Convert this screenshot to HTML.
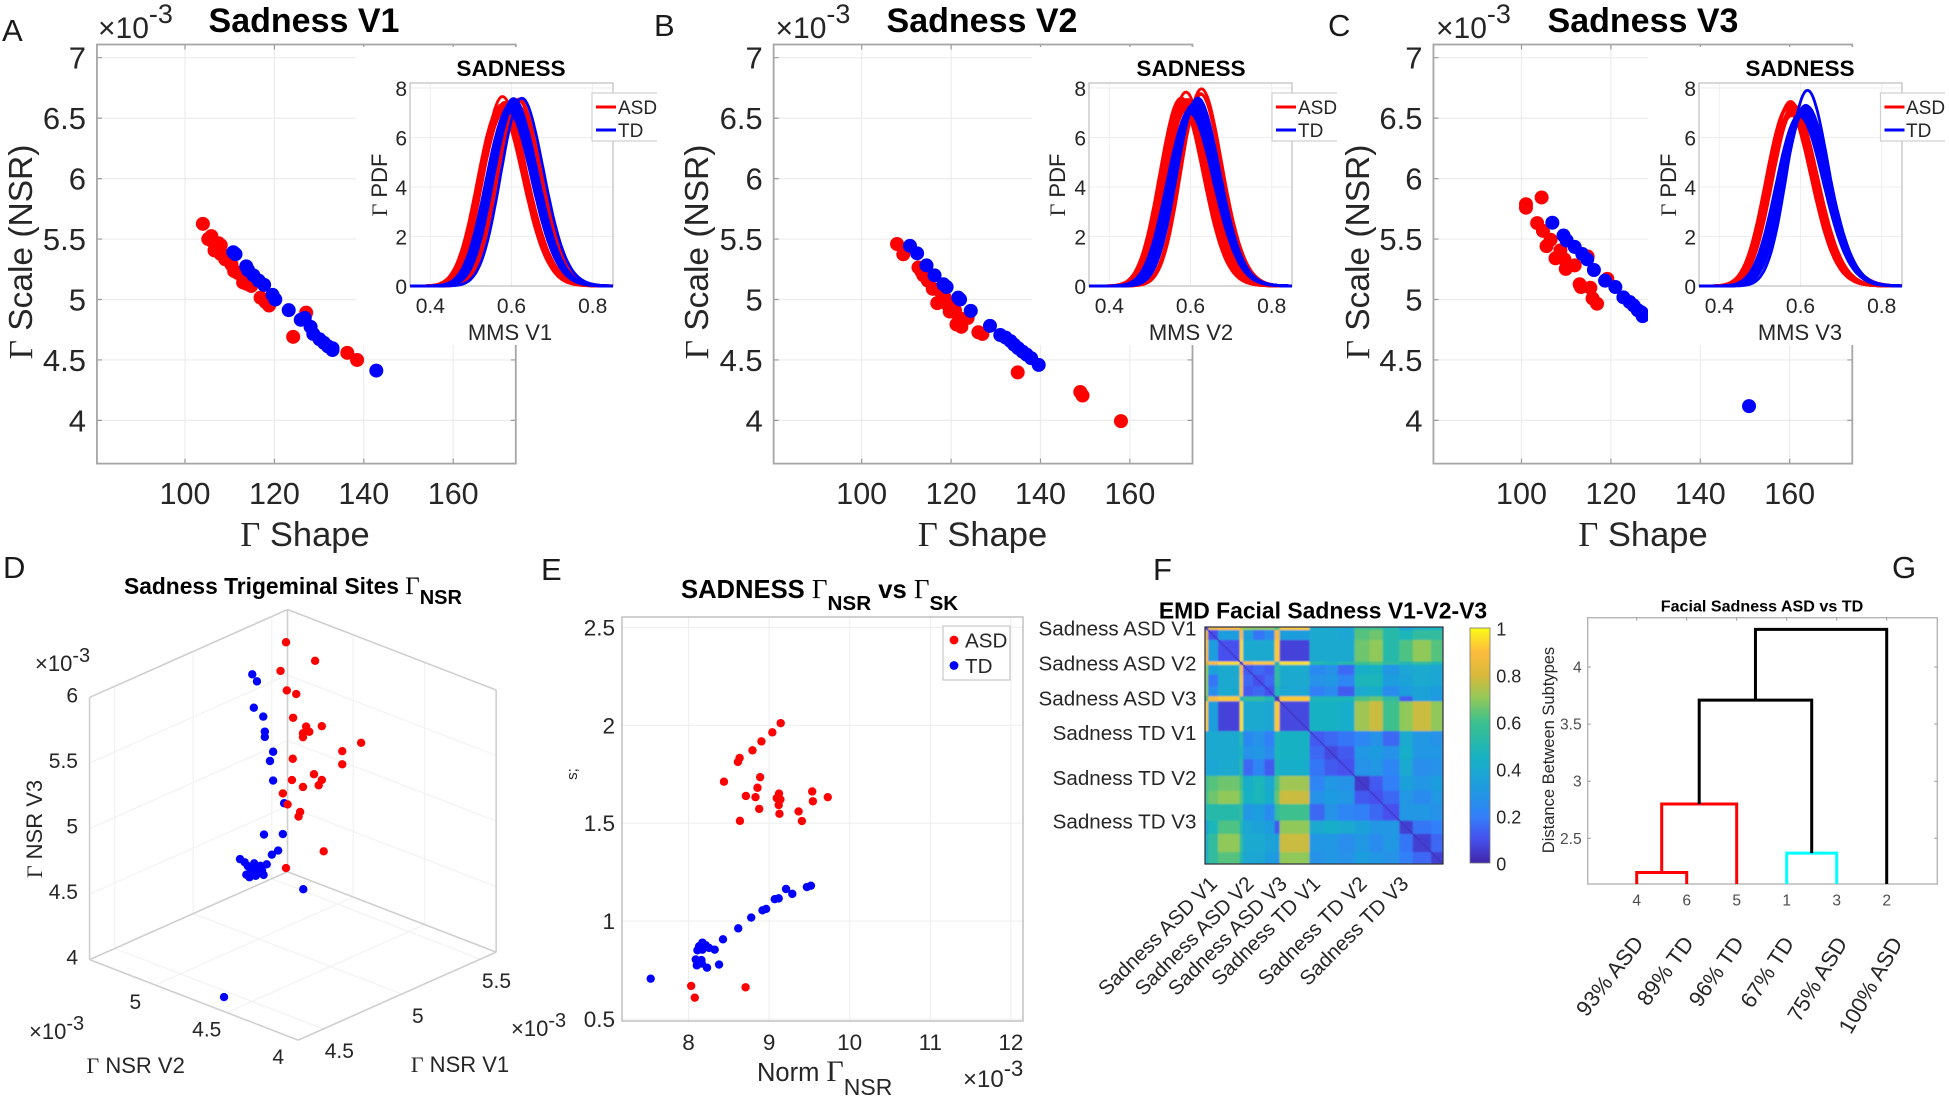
<!DOCTYPE html>
<html lang="en">
<head>
<meta charset="utf-8">
<title>Sadness micro-movement figure</title>
<style>
html,body{margin:0;padding:0;background:#fff;width:1949px;height:1097px;overflow:hidden}
svg{display:block}
text{font-family:"Liberation Sans",sans-serif;fill:#262626}
.serif{font-family:"Liberation Serif",serif}
.bold{font-weight:700;fill:#000}
.letter{font-size:31px;fill:#1a1a1a}
.title{font-size:34px;font-weight:700;fill:#000}
.axis-big{font-size:34.5px}
.axis-big-y{font-size:33.5px}
.mag{font-size:30px}
.inset-title{font-size:22.6px;font-weight:700;fill:#000}
.inset-label{font-size:22px}
.legend-text{font-size:19px}
.d-label{font-size:22px}
.mag-small{font-size:22px}
</style>
</head>
<body>
<svg id="figure" xmlns="http://www.w3.org/2000/svg" width="1949" height="1097" viewBox="0 0 1949 1097">
<defs>
<filter id="heat-blur" x="-5%" y="-5%" width="110%" height="110%"><feGaussianBlur stdDeviation="0.8"/></filter>
<clipPath id="heat-clip"><rect x="1205" y="627" width="238" height="237"/></clipPath>
<linearGradient id="parula" x1="0" y1="1" x2="0" y2="0">
<stop offset="0" stop-color="#3e26a8"/><stop offset=".1" stop-color="#4750ee"/><stop offset=".2" stop-color="#3280f8"/><stop offset=".32" stop-color="#1f9be0"/><stop offset=".45" stop-color="#17b2c4"/><stop offset=".6" stop-color="#3cc08d"/><stop offset=".7" stop-color="#90c95a"/><stop offset=".8" stop-color="#d9b93a"/><stop offset=".9" stop-color="#fdbc3c"/><stop offset="1" stop-color="#f9fb15"/>
</linearGradient>
</defs>

<!-- Panel A -->
<g id="panel-a">
<text class="letter" x="2" y="41">A</text>
<g id="scatter-v1"></g>
<rect x="356" y="47" width="164" height="298" fill="#fff"/>
<g id="inset-v1"></g>
<text class="title" x="304" y="32" text-anchor="middle">Sadness V1</text>
<text class="mag" x="98" y="38">×10<tspan dy="-15" font-size="27">-3</tspan></text>
<text class="axis-big-y" transform="translate(32,252) rotate(-90)" text-anchor="middle"><tspan class="serif">Γ</tspan> Scale (NSR)</text>
<text class="axis-big" x="305" y="546" text-anchor="middle"><tspan class="serif">Γ</tspan> Shape</text>
<text class="inset-title" x="511" y="76" text-anchor="middle">SADNESS</text>
<text class="inset-label" x="510" y="340" text-anchor="middle">MMS V1</text>
<text class="inset-label" transform="translate(387,185) rotate(-90)" text-anchor="middle"><tspan class="serif">Γ</tspan> PDF</text>
<g>
<path d="M657 93H592V141H657" fill="#fff" stroke="#d0d0d0" stroke-width="1.2"/>
<line x1="596" x2="616" y1="107" y2="107" stroke="#f00" stroke-width="3"/>
<text class="legend-text" x="618" y="114">ASD</text>
<line x1="596" x2="616" y1="130" y2="130" stroke="#00f" stroke-width="3"/>
<text class="legend-text" x="618" y="137">TD</text>
</g>
</g>

<!-- Panel B -->
<g id="panel-b">
<text class="letter" x="654" y="36">B</text>
<g id="scatter-v2"></g>
<rect x="1032" y="47" width="164" height="298" fill="#fff"/>
<g id="inset-v2"></g>
<text class="title" x="982" y="32" text-anchor="middle">Sadness V2</text>
<text class="mag" x="775.5" y="38">×10<tspan dy="-15" font-size="27">-3</tspan></text>
<text class="axis-big-y" transform="translate(708,252) rotate(-90)" text-anchor="middle"><tspan class="serif">Γ</tspan> Scale (NSR)</text>
<text class="axis-big" x="982.5" y="546" text-anchor="middle"><tspan class="serif">Γ</tspan> Shape</text>
<text class="inset-title" x="1191" y="76" text-anchor="middle">SADNESS</text>
<text class="inset-label" x="1191" y="340" text-anchor="middle">MMS V2</text>
<text class="inset-label" transform="translate(1065,185) rotate(-90)" text-anchor="middle"><tspan class="serif">Γ</tspan> PDF</text>
<g>
<path d="M1337 93H1272V141H1337" fill="#fff" stroke="#d0d0d0" stroke-width="1.2"/>
<line x1="1276" x2="1296" y1="107" y2="107" stroke="#f00" stroke-width="3"/>
<text class="legend-text" x="1298" y="114">ASD</text>
<line x1="1276" x2="1296" y1="130" y2="130" stroke="#00f" stroke-width="3"/>
<text class="legend-text" x="1298" y="137">TD</text>
</g>
</g>

<!-- Panel C -->
<g id="panel-c">
<text class="letter" x="1328" y="36">C</text>
<g id="scatter-v3"></g>
<rect x="1648" y="47" width="208" height="298" fill="#fff"/>
<g id="inset-v3"></g>
<text class="title" x="1643" y="32" text-anchor="middle">Sadness V3</text>
<text class="mag" x="1436" y="38">×10<tspan dy="-15" font-size="27">-3</tspan></text>
<text class="axis-big-y" transform="translate(1369,252) rotate(-90)" text-anchor="middle"><tspan class="serif">Γ</tspan> Scale (NSR)</text>
<text class="axis-big" x="1643" y="546" text-anchor="middle"><tspan class="serif">Γ</tspan> Shape</text>
<text class="inset-title" x="1800" y="76" text-anchor="middle">SADNESS</text>
<text class="inset-label" x="1800" y="340" text-anchor="middle">MMS V3</text>
<text class="inset-label" transform="translate(1676,185) rotate(-90)" text-anchor="middle"><tspan class="serif">Γ</tspan> PDF</text>
<g>
<path d="M1945 93H1880.5V141H1945" fill="#fff" stroke="#d0d0d0" stroke-width="1.2"/>
<line x1="1884.5" x2="1904.5" y1="107" y2="107" stroke="#f00" stroke-width="3"/>
<text class="legend-text" x="1906" y="114">ASD</text>
<line x1="1884.5" x2="1904.5" y1="130" y2="130" stroke="#00f" stroke-width="3"/>
<text class="legend-text" x="1906" y="137">TD</text>
</g>
</g>

<!-- Panel D -->
<g id="panel-d">
<text class="letter" x="3" y="578">D</text>
<text x="124" y="594" font-size="22.8" class="bold">Sadness Trigeminal Sites <tspan class="serif" font-weight="400" font-size="25">Γ</tspan><tspan dy="10" font-size="20">NSR</tspan></text>
<g id="plot-3d"></g>
<text class="mag-small" x="35" y="671">×10<tspan dy="-9" font-size="20">-3</tspan></text>
<text class="mag-small" x="29" y="1039">×10<tspan dy="-9" font-size="20">-3</tspan></text>
<text class="mag-small" x="511" y="1036">×10<tspan dy="-9" font-size="20">-3</tspan></text>
<text class="d-label" transform="translate(42,829) rotate(-90)" text-anchor="middle"><tspan class="serif">Γ</tspan> NSR V3</text>
<text class="d-label" x="135.7" y="1073" text-anchor="middle"><tspan class="serif">Γ</tspan> NSR V2</text>
<text class="d-label" x="460" y="1072" text-anchor="middle"><tspan class="serif">Γ</tspan> NSR V1</text>
</g>

<!-- Panel E -->
<g id="panel-e">
<text class="letter" x="541" y="580">E</text>
<text x="681" y="598" font-size="25.6" class="bold">SADNESS <tspan class="serif" font-weight="400" font-size="27">Γ</tspan><tspan dy="12" font-size="20.7">NSR</tspan><tspan dy="-12"> vs </tspan><tspan class="serif" font-weight="400" font-size="27">Γ</tspan><tspan dy="12" font-size="20.7">SK</tspan></text>
<g id="plot-e"></g>
<g>
<rect x="943" y="626" width="67" height="54" fill="#fff" stroke="#c8c8c8" stroke-width="1.2"/>
<circle cx="954" cy="640" r="4.4" fill="#f00"/>
<text x="965" y="647.5" font-size="20.6">ASD</text>
<circle cx="954" cy="665.5" r="4.4" fill="#00f"/>
<text x="965" y="673" font-size="20.6">TD</text>
</g>
<text x="757" y="1081" font-size="25.5">Norm <tspan class="serif" font-size="30">Γ</tspan><tspan dy="14" font-size="23">NSR</tspan></text>
<text x="963" y="1087" font-size="24">×10<tspan dy="-11" font-size="22">-3</tspan></text>
<text transform="translate(577,774) rotate(-90)" text-anchor="middle" font-size="15">s;</text>
</g>

<!-- Panel F -->
<g id="panel-f">
<text class="letter" x="1153" y="580">F</text>
<text x="1323" y="618.5" font-size="22.9" class="bold" text-anchor="middle">EMD Facial Sadness V1-V2-V3</text>
<g id="plot-heat"></g>
</g>

<!-- Panel G -->
<g id="panel-g">
<text class="letter" x="1892" y="578">G</text>
<text x="1762" y="611.5" font-size="16.1" class="bold" text-anchor="middle">Facial Sadness ASD vs TD</text>
<text transform="translate(1554,750) rotate(-90)" font-size="16.5" text-anchor="middle">Distance Between Subtypes</text>
<g id="plot-dendro"></g>
</g>
</svg>

<script>
// ---------- Panel A, B, C data: gamma shape, gamma scale (x 10^-3) ----------
const v1AsdShape=[104,105.2,105.9,106.6,107.5,108,109,108,110.4,111,112.7,113,114.8,116.9,118.8,127.1,124.2,136.3,138.5,106.2,109.5,111.8,113.8,118];
const v1AsdScale=[5.626,5.5,5.524,5.406,5.465,5.376,5.332,5.45,5.288,5.235,5.2,5.141,5.112,5.015,4.95,4.891,4.691,4.559,4.5,5.48,5.36,5.22,5.13,4.98];
const v1TdShape=[110.8,111.3,113.7,114.1,115.3,116.5,117.7,119.6,120.2,123.2,125.9,126.8,128.1,128.7,130.1,131.1,132,133,133,142.8];
const v1TdScale=[5.391,5.375,5.274,5.244,5.2,5.156,5.121,5.038,5,4.912,4.832,4.847,4.774,4.715,4.671,4.641,4.612,4.597,4.582,4.412];
const v2AsdShape=[107.9,109.3,112.7,113.8,114.8,115.9,117.6,116.9,119,119.7,120.9,121.8,121.2,122.3,123.7,126.1,127,134.9,148.9,149.4,158,113.4,115.3,118.5,120.2];
const v2AsdScale=[5.459,5.374,5.265,5.2,5.156,5.088,5.068,4.97,4.965,4.9,4.906,4.847,4.794,4.774,4.847,4.729,4.715,4.397,4.235,4.206,3.994,5.23,5.185,5.02,4.935];
const v2TdShape=[110.8,112.4,114.5,116.3,118.3,119,121.6,122,124.4,128.7,131,132.2,133.3,134.1,135,136,136.9,137.9,139.6];
const v2TdScale=[5.444,5.382,5.282,5.2,5.126,5.103,5.015,5,4.906,4.782,4.706,4.685,4.656,4.626,4.597,4.568,4.544,4.515,4.459];
const v3AsdShape=[101,101,104.5,103.5,104.8,105.6,106.5,107.6,108.7,109.6,109.9,111.9,114.8,113,113.3,115.4,115.9,116.9,119.2];
const v3AsdScale=[5.788,5.759,5.844,5.632,5.568,5.441,5.494,5.341,5.406,5.332,5.253,5.282,5.356,5.126,5.103,5.097,5.009,4.965,5.171];
const v3TdShape=[106.9,109.4,110.1,111.9,113.6,114.7,116.2,118.7,121,122.8,124.2,125.1,126,126.9,127.1,126.5,150.9];
const v3TdScale=[5.635,5.529,5.488,5.435,5.376,5.332,5.244,5.156,5.103,5.018,4.979,4.95,4.912,4.891,4.862,4.9,4.118];
const scatterXTicks=[100,120,140,160];
const scatterYTicks=[4,4.5,5,5.5,6,6.5,7];
const insetXTicks=[0.4,0.6,0.8];
const insetYTicks=[0,2,4,6,8];

// ---------- Panel D data: NSR per trigeminal site (x 10^-3) ----------
const site3dAsdV1=[5.445,5.63,5.41,5.45,5.51,5.49,5.30,5.28,5.32,5.28,5.40,5.65,5.53,5.53,5.215,5.35,5.40,5.38,5.21,5.28,4.97,5.00,5.08,5.07,5.23,4.99];
const site3dAsdV2=[5.3,5.3,5.3,5.3,5.3,5.3,5,5,5,5,5,5,5,5,5,5,5,5,5,5,4.8,4.8,4.8,4.8,4.8,4.8];
const site3dAsdV3=[5.90,5.66,5.70,5.53,5.47,5.30,5.46,5.42,5.41,5.39,5.41,5.15,5.15,5.05,5.26,5.07,5.00,4.97,5.10,5.01,5.21,5.11,5.01,4.98,4.63,4.63];
const site3dTdV1=[5.23,5.26,5.24,5.30,5.31,5.31,5.09,5.07,5.09,5.16,4.85,4.97,4.94,4.90,4.47,4.50,4.52,4.56,4.64,4.61,4.58,4.54,4.53,4.57,4.62,4.59,4.53,4.51,4.56,4.60,5.10,4.35];
const site3dTdV2=[5.3,5.3,5.3,5.3,5.3,5.3,5,5,5,5,4.8,4.8,4.8,4.8,4.55,4.55,4.55,4.55,4.55,4.55,4.55,4.55,4.55,4.55,4.55,4.55,4.55,4.55,4.55,4.55,4.8,4.53];
const site3dTdV3=[5.77,5.70,5.51,5.41,5.29,5.25,5.38,5.32,5.16,4.95,4.96,4.90,4.79,4.78,5.08,5.04,5.00,5.00,4.95,4.92,4.95,4.95,4.91,4.90,4.88,4.91,4.94,4.94,4.96,4.96,4.41,4.10];
const axis3dV1Ticks=[4.5,5,5.5];
const axis3dV2Ticks=[4,4.5,5];
const axis3dV3Ticks=[4,4.5,5,5.5,6];

// ---------- Panel E data ----------
const nsrAsd=[9.144,9.04,8.905,8.794,8.634,8.613,8.44,8.889,8.856,8.712,8.831,9.123,9.095,9.14,9.119,9.128,8.877,8.638,9.366,9.407,9.535,9.543,9.728,8.033,8.078,8.708];
const skAsd=[2.011,1.964,1.918,1.872,1.833,1.813,1.712,1.735,1.681,1.639,1.633,1.651,1.628,1.621,1.593,1.548,1.573,1.512,1.56,1.511,1.662,1.612,1.633,0.669,0.609,0.662];
const nsrTd=[9.519,9.469,9.21,9.288,9.119,9.07,8.963,8.918,8.778,8.617,8.428,8.173,8.132,8.111,8.214,8.255,8.325,8.173,8.09,8.16,8.103,8.165,8.23,8.379,7.531];
const skTd=[1.181,1.174,1.164,1.139,1.116,1.112,1.062,1.055,1.018,0.963,0.907,0.89,0.872,0.851,0.877,0.863,0.854,0.854,0.804,0.801,0.774,0.783,0.762,0.778,0.706];
const nsrTicks=[8,9,10,11,12];
const skTicks=[0.5,1,1.5,2,2.5];

// ---------- Panel F data ----------
const heatSubjectCounts=[2,6,13,2,6,7,6,3,18,9,8,10,9,8,10,8,11,7];
const heatValues=[
[.10,.85,.90,.78,.70,.70,.70,.60,.92,.40,.40,.38,.60,.60,.50,.35,.45,.45],
[.85,.10,.33,.90,.35,.18,.25,.88,.33,.40,.40,.38,.63,.66,.52,.48,.55,.55],
[.90,.33,.10,.95,.40,.40,.40,.92,.07,.40,.40,.40,.66,.70,.52,.62,.70,.63],
[.78,.90,.95,.10,.90,.92,.92,.45,.96,.52,.48,.52,.60,.62,.55,.50,.55,.50],
[.70,.35,.40,.90,.12,.15,.12,.55,.40,.24,.28,.15,.43,.45,.30,.38,.40,.38],
[.70,.18,.40,.92,.15,.10,.15,.55,.40,.28,.30,.22,.48,.48,.33,.36,.40,.38],
[.70,.25,.40,.92,.12,.15,.10,.50,.38,.20,.25,.12,.40,.42,.25,.33,.36,.33],
[.60,.88,.92,.45,.55,.55,.50,.05,.92,.48,.48,.48,.62,.65,.55,.12,.35,.30],
[.92,.33,.07,.96,.40,.40,.38,.92,.08,.45,.45,.43,.72,.78,.60,.70,.78,.70],
[.40,.40,.40,.52,.24,.28,.20,.48,.45,.12,.15,.18,.22,.28,.15,.40,.30,.28],
[.40,.40,.40,.48,.28,.30,.25,.48,.45,.15,.08,.12,.30,.32,.28,.43,.30,.30],
[.38,.38,.40,.52,.15,.22,.12,.48,.43,.18,.12,.10,.28,.30,.22,.40,.26,.28],
[.60,.63,.66,.60,.43,.48,.40,.62,.72,.22,.30,.28,.05,.12,.20,.35,.30,.33],
[.60,.66,.70,.62,.45,.48,.42,.65,.78,.28,.32,.30,.12,.10,.15,.30,.25,.30],
[.50,.52,.52,.55,.30,.33,.25,.55,.60,.15,.28,.22,.20,.15,.10,.30,.30,.28],
[.35,.48,.62,.50,.38,.36,.33,.12,.70,.40,.43,.40,.35,.30,.30,.06,.18,.20],
[.45,.55,.70,.55,.40,.40,.36,.35,.78,.30,.30,.26,.30,.25,.30,.18,.06,.15],
[.45,.55,.63,.50,.38,.38,.33,.30,.70,.28,.30,.28,.33,.30,.28,.20,.15,.06]
];
const heatDiagonalValue=0.02;
const heatLabels=["Sadness ASD V1","Sadness ASD V2","Sadness ASD V3","Sadness TD V1","Sadness TD V2","Sadness TD V3"];
const heatRowTickSubject=[1,22,43,64,91,117.5];
const heatColTickSubject=[8,30,50,70,98,123];
const colorbarTicks=[0,0.2,0.4,0.6,0.8,1];
const parulaStopAt=[0,.1,.2,.32,.45,.6,.7,.8,.9,1];
const parulaStopRgb=[[62,38,168],[71,80,238],[50,128,248],[31,155,224],[23,178,196],[60,192,141],[144,201,90],[217,185,58],[253,188,60],[249,251,21]];

// ---------- Panel G data ----------
const leafOrder=["4","6","5","1","3","2"];
const leafSubtypeLabels=["93% ASD","89% TD","96% TD","67% TD","75% ASD","100% ASD"];
const mergeLeft=["4","m0","1","m1","m3"];
const mergeRight=["6","5","3","m2","2"];
const mergeHeight=[2.2,2.8,2.37,3.71,4.33];
const mergeColor=["#f00","#f00","#0ff","#000","#000"];
const distanceTicks=[2.5,3,3.5,4];

// ---------- Shared helpers ----------
const NS="http://www.w3.org/2000/svg";
function make(tag,attrs,parent,text){
  const e=document.createElementNS(NS,tag);
  for(const k in attrs)e.setAttribute(k,attrs[k]);
  if(text!==undefined)e.textContent=text;
  parent.appendChild(e);
  return e;
}
function logGamma(z){
  return (z-0.5)*Math.log(z)-z+0.5*Math.log(2*Math.PI)+1/(12*z)-1/(360*z*z*z);
}
function gammaPdf(x,shape,scale){
  return Math.exp((shape-1)*Math.log(x)-x/scale-shape*Math.log(scale)-logGamma(shape));
}

// ---------- Panels A, B, C ----------
const panels=[
 {key:"v1",x100:185,inset:410,asdS:v1AsdShape,asdN:v1AsdScale,tdS:v1TdShape,tdN:v1TdScale},
 {key:"v2",x100:861.7,inset:1089,asdS:v2AsdShape,asdN:v2AsdScale,tdS:v2TdShape,tdN:v2TdScale},
 {key:"v3",x100:1521.5,inset:1699,asdS:v3AsdShape,asdN:v3AsdScale,tdS:v3TdShape,tdN:v3TdScale}
];
panels.forEach(function(p){
  const g=document.getElementById("scatter-"+p.key);
  const sx=function(v){return p.x100+(v-100)*4.47;};
  const sy=function(v){return 420.4-(v-4)*120.9;};
  const left=sx(80.3),right=sx(174),top=44.5,bottom=463.6;
  scatterXTicks.forEach(function(t){
    const gl=make("line",{x1:sx(t),x2:sx(t),y1:top,y2:bottom,stroke:"#ececec","stroke-width":1.2},g);
    
    
    const tk=make("path",{d:"M"+sx(t)+" "+bottom+"v-5M"+sx(t)+" "+top+"v5",stroke:"#999","stroke-width":1.2},g);
    
    
    const lb=make("text",{x:sx(t),y:504,"text-anchor":"middle","font-size":30.5},g,String(t));
    
    
  });
  scatterYTicks.forEach(function(t){
    const gl=make("line",{x1:left,x2:right,y1:sy(t),y2:sy(t),stroke:"#ececec","stroke-width":1.2},g);
    
    
    const tk=make("path",{d:"M"+left+" "+sy(t)+"h5M"+right+" "+sy(t)+"h-5",stroke:"#999","stroke-width":1.2},g);
    
    
    const lb=make("text",{x:p.x100-99,y:sy(t)+11,"text-anchor":"end","font-size":31},g,String(t));
    
    
  });
  const box=make("rect",{x:left,y:top,width:right-left,height:bottom-top,fill:"none",stroke:"#a6a6a6","stroke-width":1.8},g);
  
  
  p.asdS.forEach(function(s,i){
    const c=make("circle",{cx:sx(s),cy:sy(p.asdN[i]),r:7,fill:"#f00"},g);
    
    
  });
  p.tdS.forEach(function(s,i){
    const c=make("circle",{cx:sx(s),cy:sy(p.tdN[i]),r:7,fill:"#00f"},g);
    
    
  });

  // Inset: gamma PDFs computed from the (shape, scale) pairs in the scatter
  const h=document.getElementById("inset-"+p.key);
  const ix=function(v){return p.inset+(v-0.35)*406;};
  const iy=function(v){return 286-v*24.75;};
  insetXTicks.forEach(function(t){
    const gl=make("line",{x1:ix(t),x2:ix(t),y1:83,y2:286,stroke:"#eee","stroke-width":1},h);
    
    
    const lb=make("text",{x:ix(t),y:313,"text-anchor":"middle","font-size":21},h,t.toFixed(1));
    
    
  });
  insetYTicks.forEach(function(t){
    const gl=make("line",{x1:ix(0.35),x2:ix(0.85),y1:iy(t),y2:iy(t),stroke:"#eee","stroke-width":1},h);
    
    
    const lb=make("text",{x:p.inset-3,y:iy(t)+8,"text-anchor":"end","font-size":21},h,String(t));
    
    
  });
  const ibox=make("rect",{x:ix(0.35),y:83,width:ix(0.85)-ix(0.35),height:203,fill:"none",stroke:"#bdbdbd","stroke-width":1.2},h);
  
  
  function curve(shape,scale,color,name){
    const pts=[];
    for(let k=0;k<=125;k++){
      const x=0.35+k*0.004;
      pts.push(ix(x).toFixed(1)+","+iy(gammaPdf(x,shape,scale*1e-3)).toFixed(1));
    }
    const pl=make("polyline",{points:pts.join(" "),fill:"none",stroke:color,"stroke-width":2.8},h);
    
    
  }
  p.asdS.forEach(function(s,i){curve(s,p.asdN[i],"#f00","pdf-curve-asd");});
  p.tdS.forEach(function(s,i){curve(s,p.tdN[i],"#00f","pdf-curve-td");});
});

// ---------- Panel D ----------
(function(){
  const g=document.getElementById("plot-3d");
  const v1Min=4.34,v1Max=5.6,v2Min=4,v2Max=5.46,v3Min=4,v3Max=6;
  function projX(a,b){return 298.2+(a-v1Min)*157.1-(b-v2Min)*142.9;}
  function projY(a,b,c){return 1040.1-(a-v1Min)*69.8-(b-v2Min)*55.1-(c-v3Min)*131.1;}
  function seg(a1,b1,c1,a2,b2,c2,color,w,name){
    const l=make("line",{x1:projX(a1,b1),y1:projY(a1,b1,c1),x2:projX(a2,b2),y2:projY(a2,b2,c2),stroke:color,"stroke-width":w},g);
    
    
  }
  const gridColor="#f2f2f2",edge="#cfcfcf";
  axis3dV3Ticks.forEach(function(t){
    seg(v1Min,v2Max,t,v1Max,v2Max,t,gridColor,1.2,"grid-v3-left-wall");
    seg(v1Max,v2Max,t,v1Max,v2Min,t,gridColor,1.2,"grid-v3-right-wall");
    const lb=make("text",{x:78,y:projY(v1Min,v2Max,t)+5,"text-anchor":"end","font-size":21},g,String(t));
    
    
  });
  axis3dV1Ticks.forEach(function(t){
    seg(t,v2Min,v3Min,t,v2Max,v3Min,gridColor,1.2,"grid-v1-floor");
    seg(t,v2Max,v3Min,t,v2Max,v3Max,gridColor,1.2,"grid-v1-wall");
    const lb=make("text",{x:projX(t,v2Min)+16,y:projY(t,v2Min,v3Min)+29,"text-anchor":"middle","font-size":21},g,String(t));
    
    
  });
  axis3dV2Ticks.forEach(function(t){
    seg(v1Min,t,v3Min,v1Max,t,v3Min,gridColor,1.2,"grid-v2-floor");
    seg(v1Max,t,v3Min,v1Max,t,v3Max,gridColor,1.2,"grid-v2-wall");
    const lb=make("text",{x:projX(v1Min,t)-20,y:projY(v1Min,t,v3Min)+24,"text-anchor":"middle","font-size":21},g,String(t));
    
    
  });
  seg(v1Max,v2Max,v3Max,v1Min,v2Max,v3Max,edge,1.6,"box-edge");
  seg(v1Max,v2Max,v3Max,v1Max,v2Min,v3Max,edge,1.6,"box-edge");
  seg(v1Min,v2Max,v3Max,v1Min,v2Max,v3Min,edge,1.6,"box-edge");
  seg(v1Max,v2Min,v3Max,v1Max,v2Min,v3Min,edge,1.6,"box-edge");
  seg(v1Max,v2Max,v3Max,v1Max,v2Max,v3Min,edge,1.6,"box-edge");
  seg(v1Max,v2Max,v3Min,v1Min,v2Max,v3Min,edge,1.6,"box-edge");
  seg(v1Max,v2Max,v3Min,v1Max,v2Min,v3Min,edge,1.6,"box-edge");
  seg(v1Min,v2Max,v3Min,v1Min,v2Min,v3Min,edge,1.6,"box-edge");
  seg(v1Max,v2Min,v3Min,v1Min,v2Min,v3Min,edge,1.6,"box-edge");
  site3dTdV1.forEach(function(a,i){
    const c=make("circle",{cx:projX(a,site3dTdV2[i]),cy:projY(a,site3dTdV2[i],site3dTdV3[i]),r:4.2,fill:"#00f"},g);
    
    
  });
  site3dAsdV1.forEach(function(a,i){
    const c=make("circle",{cx:projX(a,site3dAsdV2[i]),cy:projY(a,site3dAsdV2[i],site3dAsdV3[i]),r:4.2,fill:"#f00"},g);
    
    
  });
})();

// ---------- Panel E ----------
(function(){
  const g=document.getElementById("plot-e");
  const sx=function(v){return 688.5+(v-8)*80.6;};
  const sy=function(v){return 1019-(v-0.5)*195.8;};
  const left=622,right=1023,top=617,bottom=1021;
  nsrTicks.forEach(function(t){
    const gl=make("line",{x1:sx(t),x2:sx(t),y1:top,y2:bottom,stroke:"#efefef","stroke-width":1.1},g);
    
    
    const lb=make("text",{x:sx(t),y:1050,"text-anchor":"middle","font-size":22.5},g,String(t));
    
    
  });
  skTicks.forEach(function(t){
    const gl=make("line",{x1:left,x2:right,y1:sy(t),y2:sy(t),stroke:"#efefef","stroke-width":1.1},g);
    
    
    const lb=make("text",{x:615,y:sy(t)+8,"text-anchor":"end","font-size":22.5},g,String(t));
    
    
  });
  const box=make("rect",{x:left,y:top,width:right-left,height:bottom-top,fill:"none",stroke:"#bdbdbd","stroke-width":1.4},g);
  
  
  nsrAsd.forEach(function(v,i){
    const c=make("circle",{cx:sx(v),cy:sy(skAsd[i]),r:4.2,fill:"#f00"},g);
    
    
  });
  nsrTd.forEach(function(v,i){
    const c=make("circle",{cx:sx(v),cy:sy(skTd[i]),r:4.2,fill:"#00f"},g);
    
    
  });
})();

// ---------- Panel F ----------
(function(){
  const g=document.getElementById("plot-heat");
  const totalSubjects=heatSubjectCounts.reduce(function(a,b){return a+b;},0);
  const sizeX=238/totalSubjects,sizeY=237/totalSubjects;
  const hx=function(n){return 1205+n*sizeX;};
  const hy=function(n){return 627+n*sizeY;};
  function parula(v){
    let k=0;
    while(k<parulaStopAt.length-2&&v>parulaStopAt[k+1])k++;
    const f=Math.max(0,Math.min(1,(v-parulaStopAt[k])/(parulaStopAt[k+1]-parulaStopAt[k])));
    const a=parulaStopRgb[k],b=parulaStopRgb[k+1];
    return "rgb("+Math.round(a[0]+(b[0]-a[0])*f)+","+Math.round(a[1]+(b[1]-a[1])*f)+","+Math.round(a[2]+(b[2]-a[2])*f)+")";
  }
  const clip=make("g",{"clip-path":"url(#heat-clip)"},g);
  
  
  const blur=make("g",{filter:"url(#heat-blur)"},clip);
  
  
  let rowStart=0;
  heatValues.forEach(function(row,r){
    let colStart=0;
    row.forEach(function(v,c){
      const cell=make("rect",{x:hx(colStart)-0.3,y:hy(rowStart)-0.3,width:heatSubjectCounts[c]*sizeX+0.6,height:heatSubjectCounts[r]*sizeY+0.6,fill:parula(v)},blur);
      
      
      colStart+=heatSubjectCounts[c];
    });
    rowStart+=heatSubjectCounts[r];
  });
  for(let k=0;k<totalSubjects;k++){
    const d=make("rect",{x:hx(k),y:hy(k),width:sizeX,height:sizeY,fill:parula(heatDiagonalValue),opacity:0.8},clip);
    
    
  }
  const frame=make("rect",{x:1205,y:627,width:238,height:237,fill:"none",stroke:"#2a2a3a","stroke-width":1.2},g);
  
  
  heatLabels.forEach(function(t,i){
    const a=make("text",{x:1196.5,y:hy(heatRowTickSubject[i])+7,"text-anchor":"end","font-size":20.6},g,t);
    
    
    const x=hx(heatColTickSubject[i]),y=885;
    const b=make("text",{transform:"translate("+x+","+y+") rotate(-45)","text-anchor":"end","font-size":20.6},g,t);
    
    
  });
  const bar=make("rect",{x:1470,y:628,width:20,height:235,fill:"url(#parula)",stroke:"#777","stroke-width":0.8},g);
  
  
  colorbarTicks.forEach(function(t){
    const y=864-t*235;
    const lb=make("text",{x:1496.3,y:y+6.5,"font-size":18},g,String(t));
    
    
  });
})();

// ---------- Panel G ----------
(function(){
  const g=document.getElementById("plot-dendro");
  const left=1587.7,right=1937.3,top=617.7,bottom=884;
  const yOf=function(v){return 667+(4-v)*114.2;};
  const xOfLeaf=function(i){return 1636.7+i*50;};
  const box=make("rect",{x:left,y:top,width:right-left,height:bottom-top,fill:"none",stroke:"#b5b5b5","stroke-width":1.4},g);
  
  
  distanceTicks.forEach(function(t){
    const tk=make("path",{d:"M"+left+" "+yOf(t)+"h3M"+right+" "+yOf(t)+"h-3",stroke:"#999","stroke-width":1},g);
    
    
    const lb=make("text",{x:1581.7,y:yOf(t)+5.5,"text-anchor":"end","font-size":15.6,style:"fill:#4d4d4d"},g,String(t));
    
    
  });
  const pos={};
  leafOrder.forEach(function(id,i){
    pos[id]={x:xOfLeaf(i),y:bottom};
    const tk=make("line",{x1:xOfLeaf(i),x2:xOfLeaf(i),y1:top,y2:top+3,stroke:"#999","stroke-width":1},g);
    
    
    const lb=make("text",{x:xOfLeaf(i),y:905.5,"text-anchor":"middle","font-size":15.6,style:"fill:#4d4d4d"},g,id);
    
    
    const sub=make("text",{transform:"translate("+(xOfLeaf(i)+(i>3?(i-3)*5:2))+",939) rotate("+(-52-i*1.7)+")","text-anchor":"end","font-size":22,"dominant-baseline":"central"},g,leafSubtypeLabels[i]);
    
    
  });
  mergeHeight.forEach(function(h,i){
    const a=pos[mergeLeft[i]],b=pos[mergeRight[i]],y=yOf(h);
    const link=make("path",{d:"M"+a.x+" "+a.y+"V"+y+"H"+b.x+"V"+b.y,fill:"none",stroke:mergeColor[i],"stroke-width":3},g);
    
    
    pos["m"+i]={x:(a.x+b.x)/2,y:y};
  });
})();
</script>
</body>
</html>
